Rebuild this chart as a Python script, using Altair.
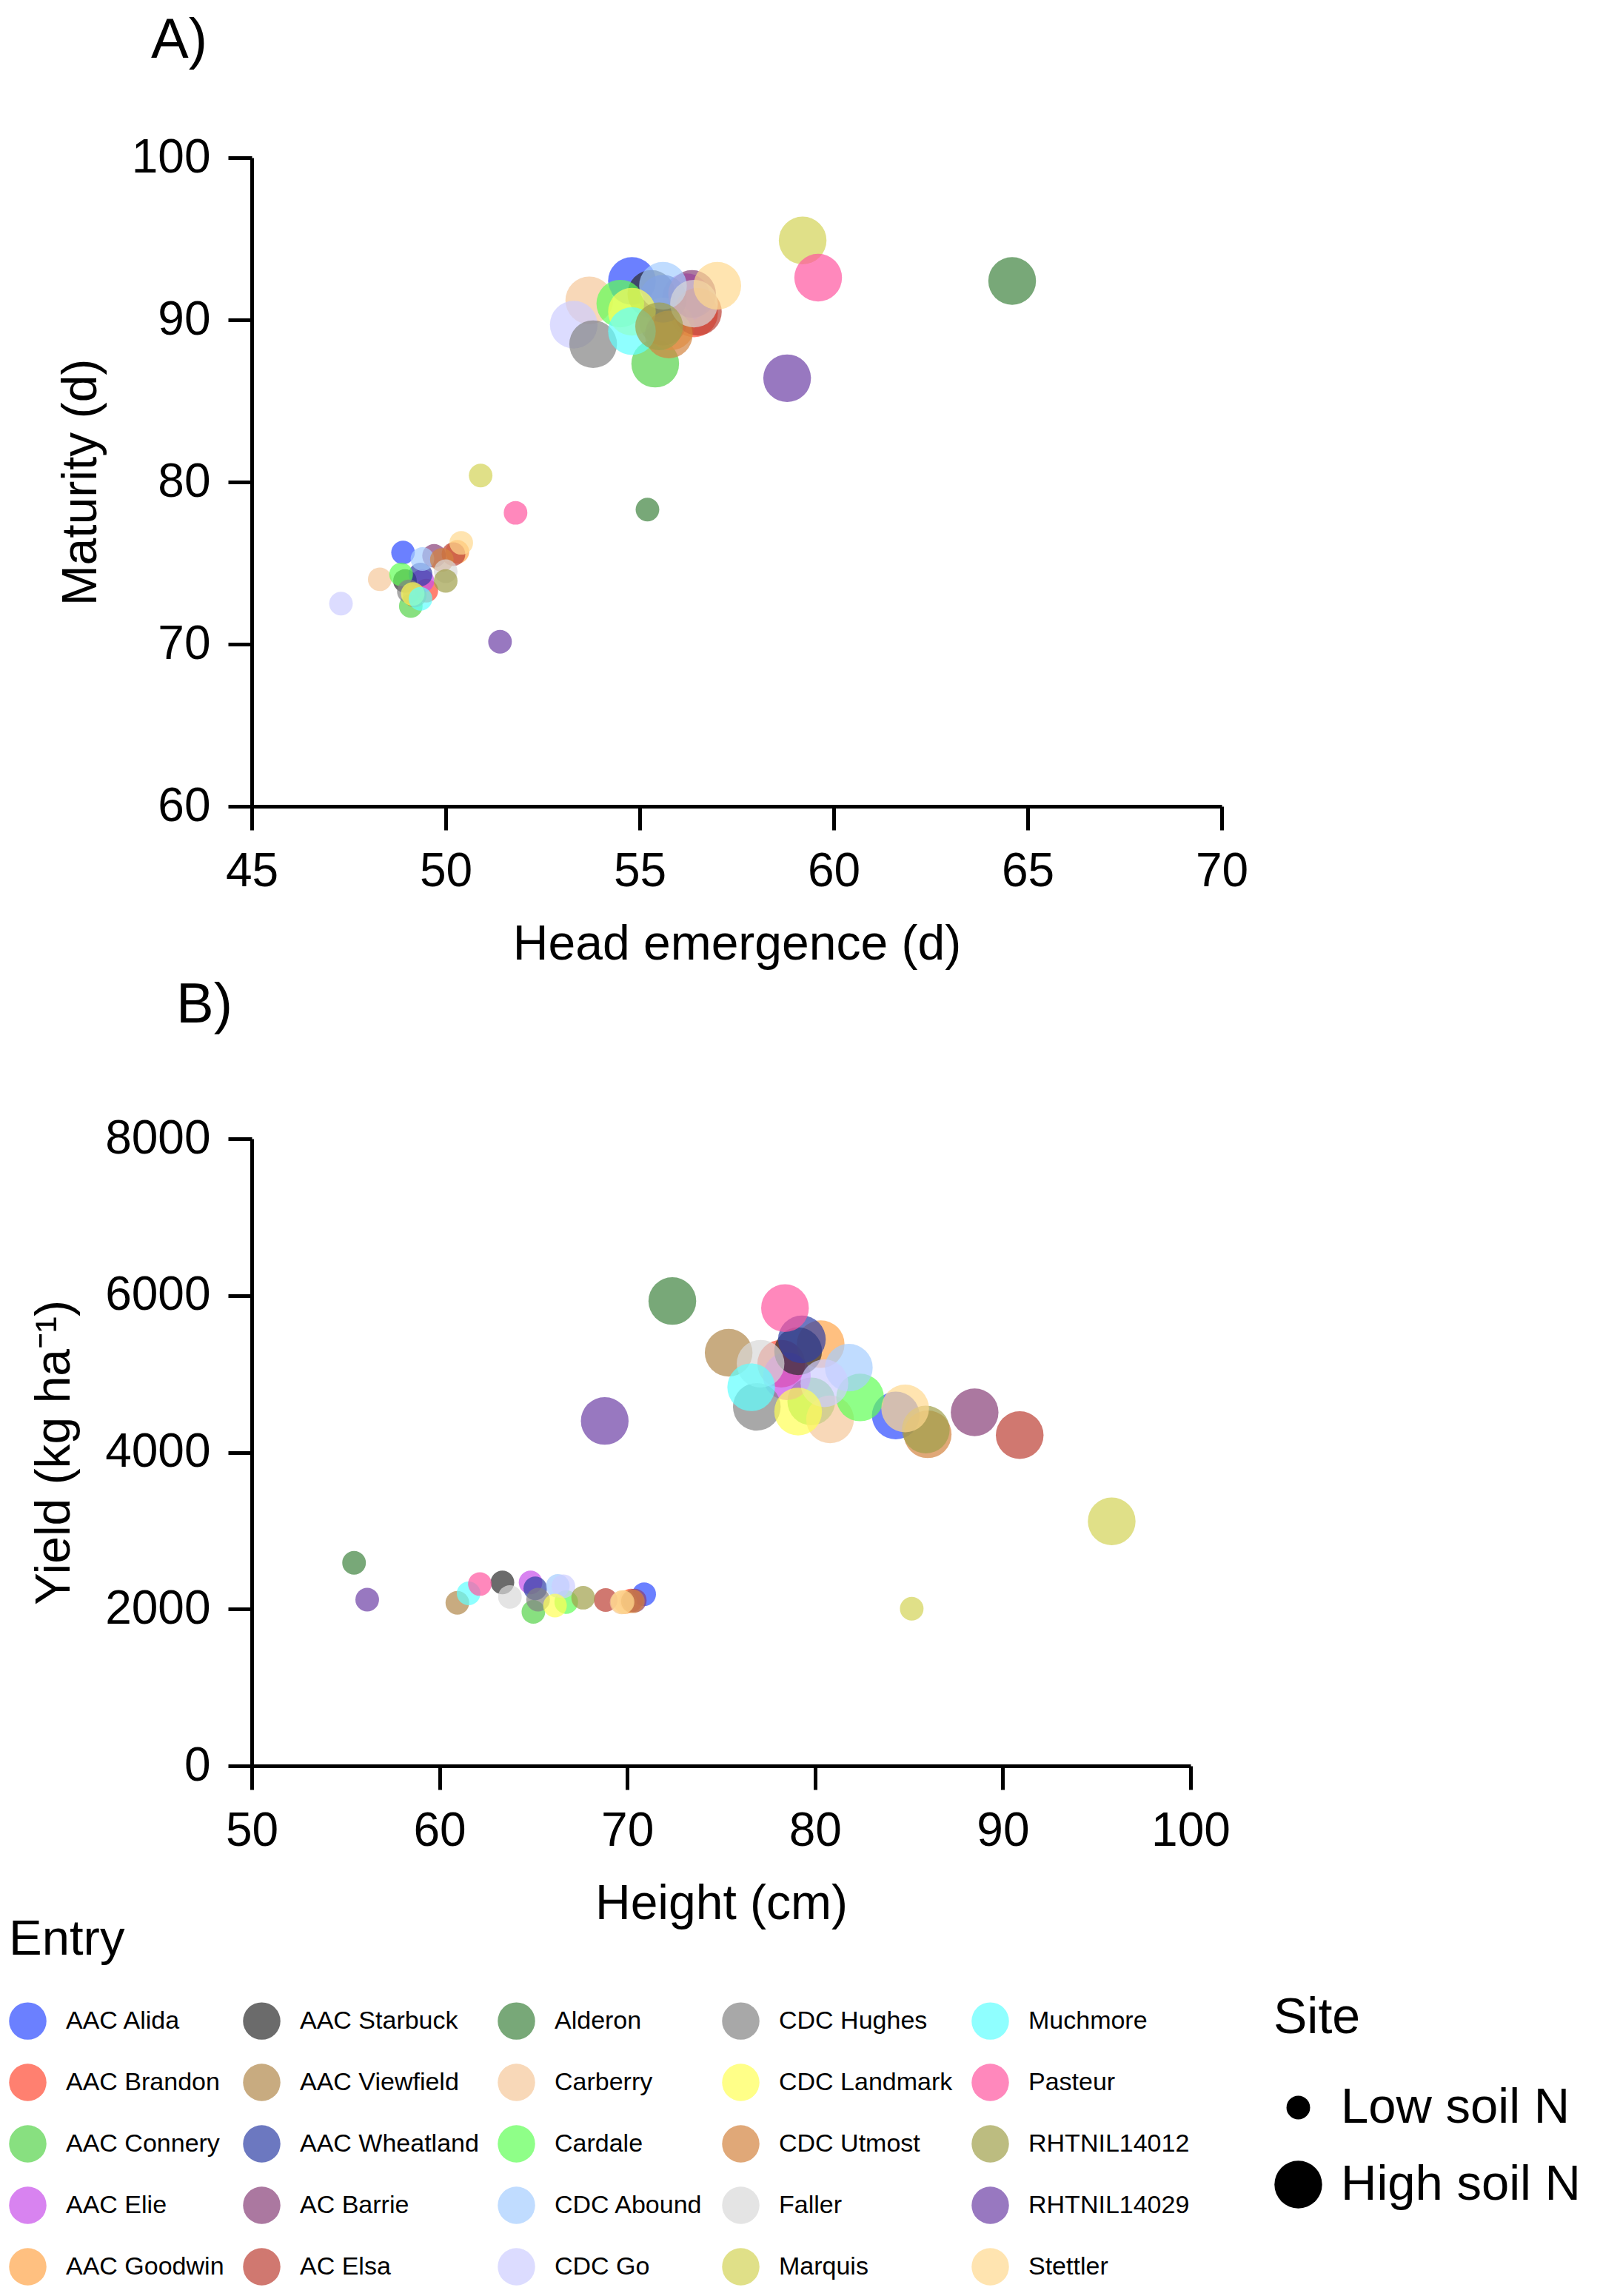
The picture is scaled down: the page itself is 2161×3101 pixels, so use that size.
import altair as alt
import pandas as pd

FONT = "Liberation Sans"
ALPHA = 0.7

entries = ["AAC Alida", "AAC Brandon", "AAC Connery", "AAC Elie", "AAC Goodwin",
           "AAC Starbuck", "AAC Viewfield", "AAC Wheatland", "AC Barrie", "AC Elsa",
           "Alderon", "Carberry", "Cardale", "CDC Abound", "CDC Go",
           "CDC Hughes", "CDC Landmark", "CDC Utmost", "Faller", "Marquis",
           "Muchmore", "Pasteur", "RHTNIL14012", "RHTNIL14029", "Stettler"]

# colours as they appear (blended on white) in the reference legend
shown_colors = ["#6b80ff", "#ff8070", "#88e080", "#d884f0", "#ffc080",
                "#6b6b6b", "#c8ac80", "#6c78c0", "#ac78a0", "#d07870",
                "#78a878", "#f8d8b8", "#90ff88", "#c0dcff", "#dcdcff",
                "#a8a8a8", "#ffff88", "#e0a878", "#e4e4e4", "#e0e088",
                "#90ffff", "#ff88bc", "#bcbc80", "#9878c0", "#ffe4b0"]

sites = ["Low soil N", "High soil N"]

# Panel A: head emergence (d) / maturity (d)
he_low = [48.9, 49.5, 49.1, 49.4, 50.3, 48.95, 49.2, 49.35, 49.7, 50.2,
          55.2, 48.3, 48.85, 49.4, 47.3, 49.05, 49.15, 49.9, 50.0, 50.9,
          49.35, 51.8, 50.0, 51.4, 50.4]
mat_low = [75.65, 73.3, 72.35, 73.9, 75.7, 73.9, 73.0, 74.3, 75.45, 75.55,
           78.3, 74.0, 74.3, 75.25, 72.5, 73.25, 73.1, 75.2, 74.5, 80.4,
           72.8, 78.1, 73.9, 70.15, 76.25]
he_high = [54.8, 56.4, 55.4, 56.2, 55.8, 55.3, 55.6, 55.6, 56.35, 56.5,
           64.6, 53.7, 54.5, 55.6, 53.3, 53.8, 54.8, 55.75, 56.4, 59.2,
           54.8, 59.6, 55.5, 58.8, 57.0]
mat_high = [92.4, 90.4, 87.3, 91.4, 89.6, 91.6, 89.9, 91.3, 91.6, 90.5,
            92.4, 91.2, 91.0, 92.1, 89.7, 88.5, 90.5, 89.1, 91.0, 94.9,
            89.3, 92.6, 89.6, 86.4, 92.1]

# Panel B: height (cm) / yield (kg/ha)
ht_low = [70.9, 70.2, 65.0, 64.85, 69.9, 63.35, 60.95, 65.1, 70.4, 68.85,
          55.45, 69.7, 66.75, 66.3, 66.6, 65.25, 66.15, 70.3, 63.75, 85.15,
          61.55, 62.15, 67.65, 56.15, 69.75]
yld_low = [2190, 2110, 1965, 2340, 2090, 2340, 2080, 2265, 2110, 2115,
           2590, 2085, 2090, 2295, 2290, 2120, 2045, 2100, 2155, 2005,
           2200, 2320, 2145, 2120, 2090]
ht_high = [84.3, 78.2, 79.8, 78.5, 80.3, 79.1, 75.4, 79.3, 88.5, 90.9,
           72.4, 80.8, 82.4, 81.8, 80.5, 76.9, 79.1, 86.0, 77.1, 95.8,
           76.6, 78.4, 85.9, 68.8, 84.8]
yld_high = [4470, 5130, 4650, 4970, 5380, 5290, 5270, 5440, 4510, 4220,
            5930, 4420, 4700, 5080, 4880, 4580, 4520, 4230, 5130, 3120,
            4830, 5840, 4290, 4400, 4560]

rows = []
for i, e in enumerate(entries):
    rows.append({"Entry": e, "Site": sites[0], "HE": he_low[i], "Mat": mat_low[i],
                 "Height": ht_low[i], "Yield": yld_low[i]})
for i, e in enumerate(entries):
    rows.append({"Entry": e, "Site": sites[1], "HE": he_high[i], "Mat": mat_high[i],
                 "Height": ht_high[i], "Yield": yld_high[i]})
df = pd.DataFrame(rows)


def base_color(hexstr):
    vals = [int(hexstr[k:k + 2], 16) for k in (1, 3, 5)]
    out = []
    for v in vals:
        b = round((v - 255 * (1 - ALPHA)) / ALPHA)
        out.append(max(0, min(255, b)))
    return "#%02x%02x%02x" % tuple(out)


base_colors = [base_color(c) for c in shown_colors]

color_enc = alt.Color(
    "Entry:N",
    scale=alt.Scale(domain=entries, range=base_colors),
    legend=alt.Legend(
        title="Entry", orient="none", legendX=-328, legendY=2374, columns=5,
        symbolType="circle", symbolSize=2550, symbolStrokeWidth=0,
        labelFont=FONT, labelFontSize=34, labelColor="black", labelLimit=500,
        labelOffset=26, titleFont=FONT, titleFontSize=67, titleFontWeight="normal",
        titleColor="black", titlePadding=50, columnPadding=25, rowPadding=32,
    ),
)
size_enc = alt.Size(
    "Site:N",
    scale=alt.Scale(domain=sites, range=[1018, 4150]),
    legend=alt.Legend(
        title="Site", orient="none", legendX=1380, legendY=2479,
        symbolType="circle", symbolFillColor="black", symbolStrokeWidth=0,
        symbolOpacity=1, labelFont=FONT, labelFontSize=67, labelColor="black",
        labelLimit=800, labelOffset=24, titleFont=FONT, titleFontSize=68,
        titleFontWeight="normal", titleColor="black", titlePadding=53, rowPadding=36,
    ),
)

chartA = alt.Chart(df).mark_circle(opacity=ALPHA, strokeWidth=0).encode(
    x=alt.X("HE:Q", title="Head emergence (d)",
            scale=alt.Scale(domain=[45, 70], nice=False, zero=False),
            axis=alt.Axis(values=[45, 50, 55, 60, 65, 70], format="d")),
    y=alt.Y("Mat:Q", title="Maturity (d)",
            scale=alt.Scale(domain=[60, 100], nice=False, zero=False),
            axis=alt.Axis(values=[60, 70, 80, 90, 100], format="d")),
    color=color_enc,
    size=size_enc,
).properties(
    width=1310, height=876,
    title=alt.TitleParams("A)", anchor="start", frame="group", dx=-136, offset=87,
                          fontSize=76, font=FONT, fontWeight="normal", color="black"),
)

chartB = alt.Chart(df).mark_circle(opacity=ALPHA, strokeWidth=0).encode(
    x=alt.X("Height:Q", title="Height (cm)",
            scale=alt.Scale(domain=[50, 100], nice=False, zero=False),
            axis=alt.Axis(values=[50, 60, 70, 80, 90, 100], format="d")),
    y=alt.Y("Yield:Q", title="Yield (kg ha⁻¹)",
            scale=alt.Scale(domain=[0, 8000], nice=False, zero=False),
            axis=alt.Axis(values=[0, 2000, 4000, 6000, 8000], format="d")),
    color=color_enc,
    size=size_enc,
).properties(
    width=1268, height=847,
    title=alt.TitleParams("B)", anchor="start", frame="group", dx=-102, offset=109,
                          fontSize=76, font=FONT, fontWeight="normal", color="black"),
)

chart = alt.vconcat(chartA, chartB, spacing=449, bounds="flush").properties(
    padding={"top": 9, "left": 4, "right": 0, "bottom": 0}
).configure_axis(
    domainColor="black", domainWidth=5, tickColor="black", tickWidth=5, tickSize=32,
    labelFont=FONT, labelFontSize=64, labelColor="black", labelPadding=24,
    labelFlush=False, titleFont=FONT, titleFontSize=66, titleFontWeight="normal",
    titleColor="black", titlePadding=34, grid=False,
).configure_view(stroke=None)

chart.save("out.html", embed_options={"renderer": "svg", "actions": False})
